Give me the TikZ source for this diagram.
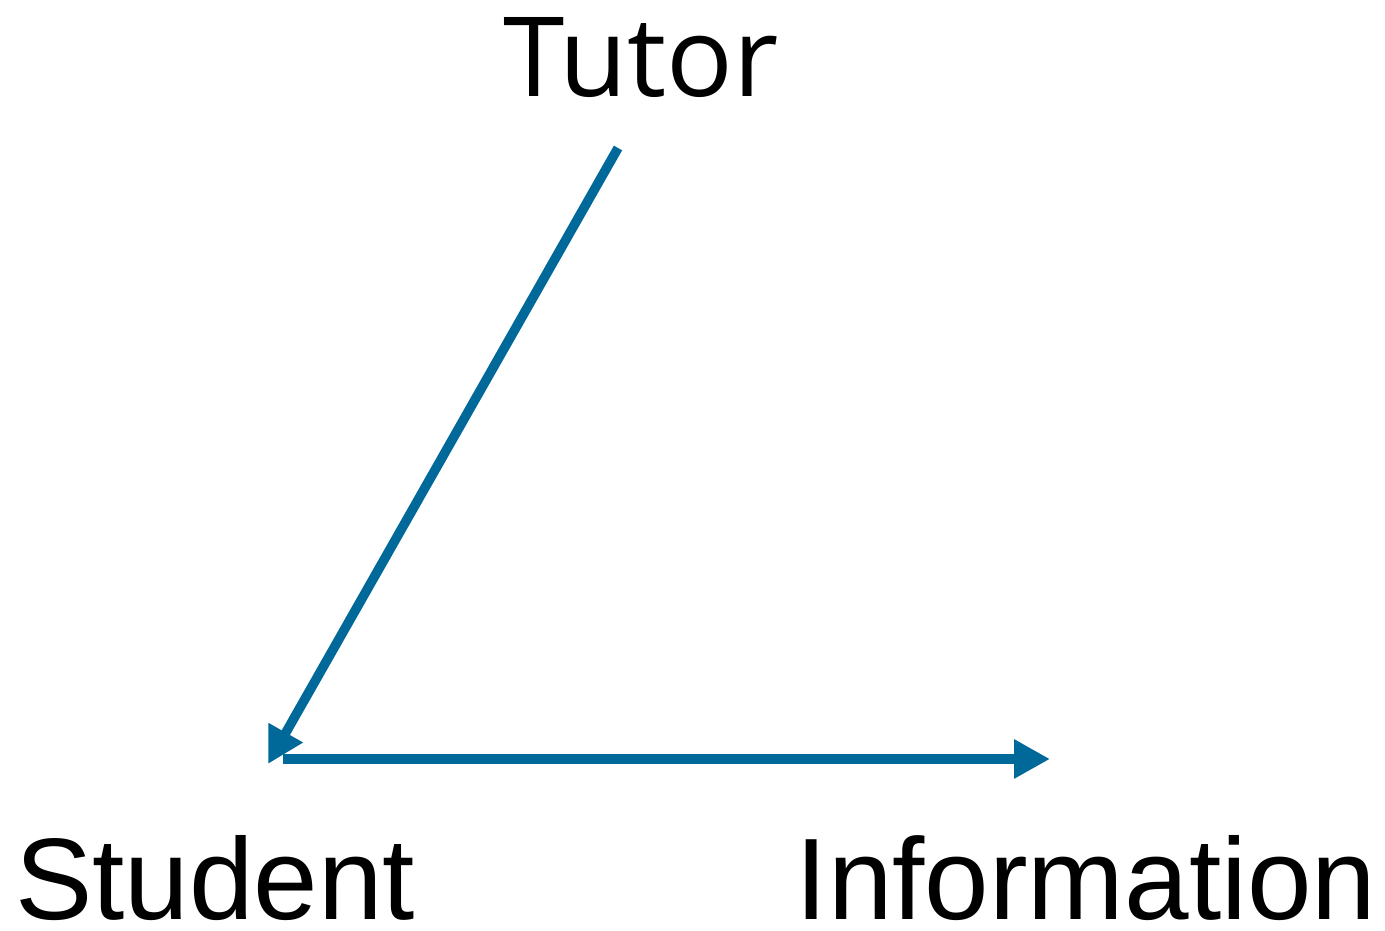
\documentclass[tikz,border=0pt]{standalone}
\usepackage{fontspec}
\setmainfont{Liberation Sans}
\newfontfamily\tutorfont{Open Sans}
\usetikzlibrary{arrows.meta}
\definecolor{flow}{HTML}{00699A}

\begin{document}
\begin{tikzpicture}[>={Triangle[length=.72cm,width=.74cm]},every node/.style={font=\fontsize{66}{70}\selectfont,inner sep=0pt},a/.style={->,draw=flow,line width=.19cm}]
\useasboundingbox (0,0) rectangle (27.7,18.62);
\node[anchor=base] (tutor) at (12.82,16.68) {\fontsize{63}{70}\tutorfont Tutor};\node[anchor=base] (student) at (4.30,.22) {Student};\node[anchor=base] (info) at (21.72,.22) {Information};
\coordinate (t) at (12.36,15.66);\coordinate (s) at (5.36,3.34);\coordinate (c) at (5.66,3.44);\coordinate (i) at (21.0,3.44);
\draw[a] (t)--(s);\draw[a] (c)--(i);
\end{tikzpicture}
\end{document}
